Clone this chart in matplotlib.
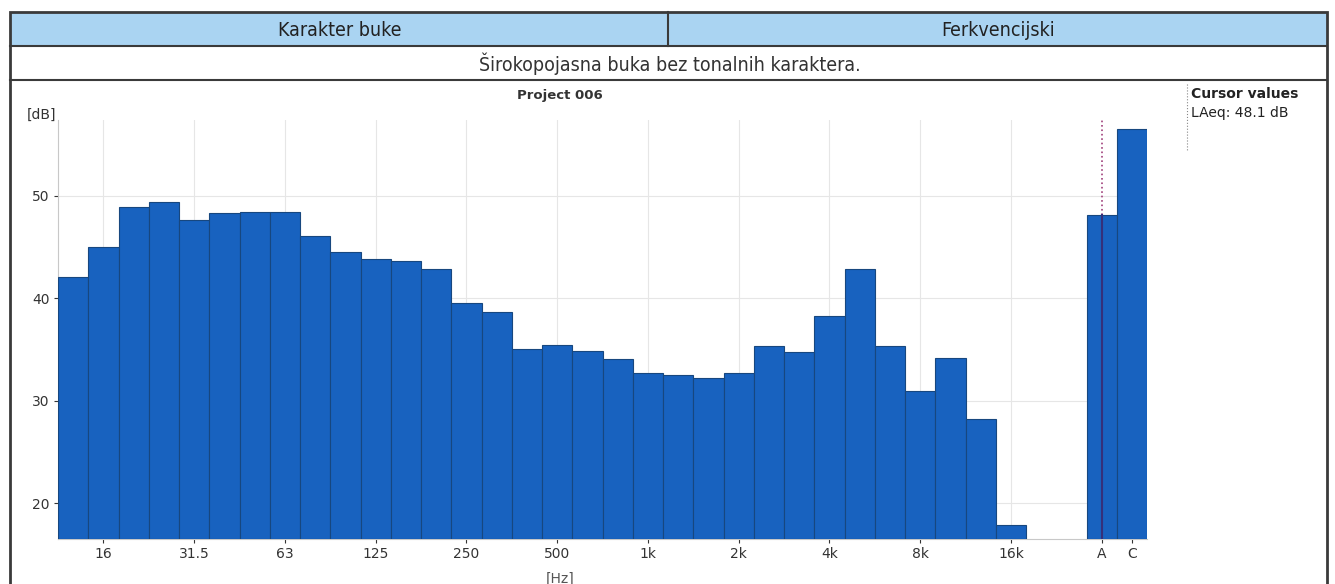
import matplotlib
matplotlib.use("Agg")
import matplotlib.pyplot as plt
from matplotlib.patches import Rectangle
from matplotlib.lines import Line2D

# third-octave bands 12.5 Hz .. 16 kHz, then A and C weighted totals
bands = ["12.5", "16", "20", "25", "31.5", "40", "50", "63", "80", "100",
         "125", "160", "200", "250", "315", "400", "500", "630", "800", "1k",
         "1.25k", "1.6k", "2k", "2.5k", "3.15k", "4k", "5k", "6.3k", "8k", "10k",
         "12.5k", "16k"]
levels = [42.1, 45.0, 48.9, 49.4, 47.6, 48.3, 48.4, 48.4, 46.1, 44.5,
          43.8, 43.6, 42.9, 39.5, 38.7, 35.0, 35.4, 34.9, 34.1, 32.7,
          32.5, 32.2, 32.7, 35.3, 34.8, 38.3, 42.9, 35.3, 30.9, 34.2,
          28.2, 17.9]
totals = ["A", "C"]
total_levels = [48.1, 56.5]
tick_labels = ["16", "31.5", "63", "125", "250", "500", "1k", "2k", "4k", "8k", "16k"]
y_ticks = [20, 30, 40, 50]

header_left = "Karakter buke"
header_right = "Ferkvencijski"
description = "Širokopojasna buka bez tonalnih karaktera."
cursor_text = "LAeq: 48.1 dB"

W, H = 1335, 584
fig = plt.figure(figsize=(W / 100, H / 100), dpi=100)

def fx(px):
    return px / W

def fy(py):
    return 1 - py / H

narrow = dict(family="DejaVu Sans", fontstretch="condensed")
border = "#3a3a3a"

# table frame
fig.patches.append(Rectangle((fx(10), fy(46)), fx(1317), fy(12) - fy(46),
                             transform=fig.transFigure, facecolor="#aad4f2",
                             edgecolor="none", zorder=0))
fig.patches.append(Rectangle((fx(10), fy(590)), fx(1317), fy(12) - fy(590),
                             transform=fig.transFigure, facecolor="none",
                             edgecolor=border, linewidth=2, zorder=5))
for y in [46, 80]:
    fig.lines.append(Line2D([fx(10), fx(1327)], [fy(y), fy(y)],
                            transform=fig.transFigure, color=border, linewidth=1.5))
fig.lines.append(Line2D([fx(668), fx(668)], [fy(12), fy(46)],
                        transform=fig.transFigure, color=border, linewidth=1.5))

fig.text(fx(340), fy(30), header_left, ha="center", va="center",
         fontsize=14, color="#222222", **narrow)
fig.text(fx(998), fy(30), header_right, ha="center", va="center",
         fontsize=14, color="#222222", **narrow)
fig.text(fx(670), fy(64), description, ha="center", va="center",
         fontsize=14, color="#333333", **narrow)

# chart
ax = fig.add_axes([fx(58), fy(539), fx(1147) - fx(58), fy(120) - fy(539)])
n = len(levels)
xs = list(range(n))
x_tot = [n + 2, n + 3]
bar_color = "#1862bf"
edge_color = "#17477f"
ax.bar(xs, [v - 16.5 for v in levels], bottom=16.5, width=1.0,
       color=bar_color, edgecolor=edge_color, linewidth=0.8, zorder=3)
ax.bar(x_tot, [v - 16.5 for v in total_levels], bottom=16.5, width=1.0,
       color=bar_color, edgecolor=edge_color, linewidth=0.8, zorder=3)

# cursor at A
ax.plot([x_tot[0], x_tot[0]], [total_levels[0], 57.4], linestyle=":",
        color="#a0407a", linewidth=1.2, zorder=4)
ax.plot([x_tot[0], x_tot[0]], [16.5, total_levels[0]], color="#35307a",
        linewidth=1.5, zorder=4)

ax.set_xlim(-0.5, n + 3.5)
ax.set_ylim(16.5, 57.4)
tick_pos = [bands.index(t) for t in tick_labels]
ax.set_xticks(tick_pos + x_tot)
ax.set_xticklabels(tick_labels + totals)
ax.set_yticks(y_ticks)
ax.tick_params(axis="both", labelsize=10, colors="#333333", length=3,
               width=0.8, pad=3)
for lab in ax.get_xticklabels() + ax.get_yticklabels():
    lab.set_color("#333333")
for s in ["top", "right"]:
    ax.spines[s].set_visible(False)
for s in ["left", "bottom"]:
    ax.spines[s].set_color("#c8c8c8")
for p in tick_pos:
    ax.axvline(p, color="#e6e6e6", linewidth=0.8, zorder=1)
for yv in y_ticks:
    ax.axhline(yv, color="#e6e6e6", linewidth=0.8, zorder=1)

fig.text(fx(560), fy(95), "Project 006", ha="center", va="center",
         fontsize=9.5, fontweight="bold", color="#333333")
fig.text(fx(42), fy(115), "[dB]", ha="center", va="center",
         fontsize=10, color="#333333")
fig.text(fx(560), fy(579), "[Hz]", ha="center", va="center",
         fontsize=10, color="#555555")

# cursor values panel
fig.lines.append(Line2D([fx(1187), fx(1187)], [fy(84), fy(150)],
                        transform=fig.transFigure, color="#888888",
                        linewidth=0.8, linestyle=":"))
fig.text(fx(1191), fy(94), "Cursor values", ha="left", va="center",
         fontsize=10, fontweight="bold", color="#222222")
fig.text(fx(1191), fy(113), cursor_text, ha="left", va="center",
         fontsize=10, color="#222222")

fig.savefig("out.png", dpi=100)
